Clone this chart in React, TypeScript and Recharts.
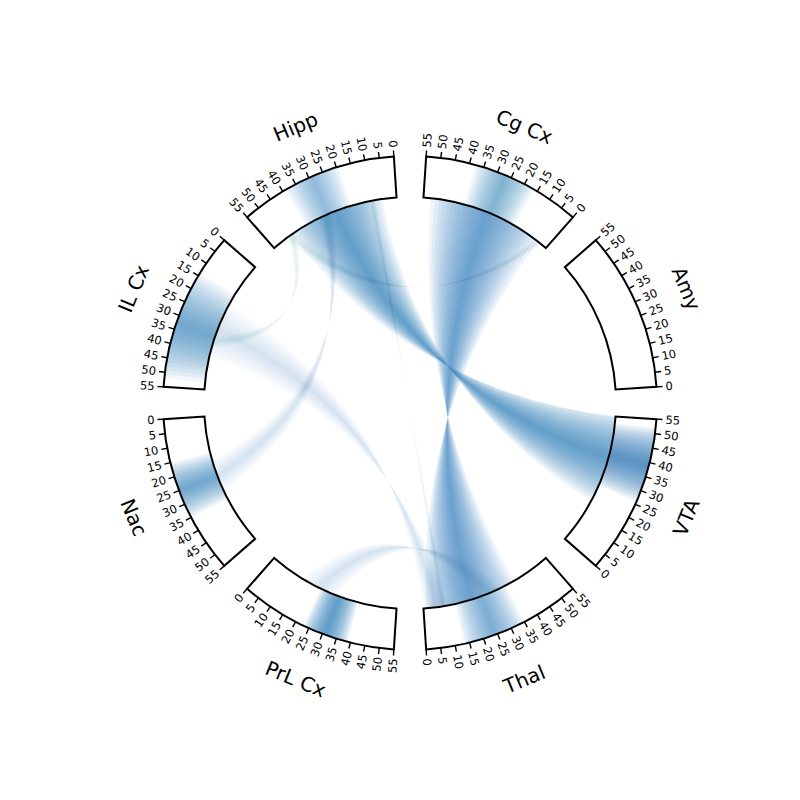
import React from 'react';
import { PieChart, Pie, Cell, Sector, Customized } from 'recharts';

// ---------------- data ----------------
const sectorNames = ['Amy', 'Cg Cx', 'Hipp', 'IL Cx', 'Nac', 'PrL Cx', 'Thal', 'VTA'];
const sectorSizes = [55, 55, 55, 55, 55, 55, 55, 55];
const tickValues = [0, 5, 10, 15, 20, 25, 30, 35, 40, 45, 50, 55];
const axisMax = 55;

// density bands drawn inside the tracks
const bandSector = ['Cg Cx', 'Hipp', 'IL Cx', 'Nac', 'PrL Cx', 'Thal', 'VTA'];
const bandCenter = [27, 29, 33, 25, 31, 24, 39];
const bandSpread = [11, 10, 19, 10, 8, 11, 13];
const bandPeak = [0.55, 0.5, 0.65, 0.65, 0.7, 0.6, 0.75];

// links between regions
const linkSource = ['Hipp', 'Cg Cx', 'IL Cx', 'IL Cx', 'Nac', 'PrL Cx', 'Hipp', 'Hipp'];
const linkSourceCenter = [26, 28, 30, 35, 25, 22, 47, 10];
const linkSourceSpread = [20, 24, 12, 3, 7, 8, 3, 1.5];
const linkTarget = ['VTA', 'Thal', 'Thal', 'Hipp', 'Hipp', 'Thal', 'Cg Cx', 'Thal'];
const linkTargetCenter = [38, 20, 5, 46, 30, 28, 4, 8];
const linkTargetSpread = [19, 19, 5, 2, 3, 5, 2, 1.5];
const linkPeak = [0.72, 0.66, 0.2, 0.1, 0.16, 0.18, 0.08, 0.1];

// ---------------- geometry ----------------
const W = 800;
const H = 800;
const CX = 402;
const CY = 395;
const R_IN = 206;
const R_OUT = 247;
const START = 3.75;
const PAD = 7.5;
const STEP = 45;
const SPAN = STEP - PAD;
const BLUE = '#2a7ab8';
const FONT = 'DejaVu Sans, sans-serif';

const rad = (d: number) => (d * Math.PI) / 180;
const pt = (a: number, r: number): [number, number] => [CX + r * Math.cos(rad(a)), CY - r * Math.sin(rad(a))];
const clamp = (v: number) => Math.max(0, Math.min(axisMax, v));
const ang = (name: string, v: number) => START + STEP * sectorNames.indexOf(name) + (clamp(v) / axisMax) * SPAN;

// control point of the bezier: toward the middle angle, further out when the ends are close
function ctrl(a0: number, a1: number): [number, number] {
  let d = Math.abs(a1 - a0) % 360;
  let mid = (a0 + a1) / 2;
  if (d > 180) {
    d = 360 - d;
    mid += 180;
  }
  const c = Math.cos(rad(d / 2));
  const rc = R_IN * 0.65 * c * c * c;
  return pt(mid, rc);
}

function ribbonPath(s0: number, s1: number, t0: number, t1: number, r: number) {
  const [ax, ay] = pt(s0, r);
  const [bx, by] = pt(s1, r);
  const [cx1, cy1] = pt(t1, r);
  const [dx, dy] = pt(t0, r);
  const [q1x, q1y] = ctrl(s1, t1);
  const [q2x, q2y] = ctrl(t0, s0);
  return `M${ax},${ay} A${r},${r} 0 0 0 ${bx},${by} Q${q1x},${q1y} ${cx1},${cy1} A${r},${r} 0 0 1 ${dx},${dy} Q${q2x},${q2y} ${ax},${ay} Z`;
}

const LAYERS = 14;

function Underlay() {
  const bands: React.ReactNode[] = [];
  bandSector.forEach((s, i) => {
    const a = 1 - Math.pow(1 - bandPeak[i], 1 / LAYERS);
    for (let k = 1; k <= LAYERS; k++) {
      const w = (bandSpread[i] * k) / LAYERS;
      bands.push(
        <Sector
          key={`b${i}-${k}`}
          cx={CX}
          cy={CY}
          innerRadius={R_IN}
          outerRadius={R_OUT}
          startAngle={ang(s, bandCenter[i] - w)}
          endAngle={ang(s, bandCenter[i] + w)}
          fill={BLUE}
          fillOpacity={a}
          stroke="none"
        />
      );
    }
  });
  const links: React.ReactNode[] = [];
  linkSource.forEach((s, i) => {
    const a = 1 - Math.pow(1 - linkPeak[i], 1 / LAYERS);
    for (let k = 1; k <= LAYERS; k++) {
      const ws = (linkSourceSpread[i] * k) / LAYERS;
      const wt = (linkTargetSpread[i] * k) / LAYERS;
      const d = ribbonPath(
        ang(s, linkSourceCenter[i] - ws),
        ang(s, linkSourceCenter[i] + ws),
        ang(linkTarget[i], linkTargetCenter[i] - wt),
        ang(linkTarget[i], linkTargetCenter[i] + wt),
        R_IN
      );
      links.push(<path key={`l${i}-${k}`} d={d} fill={BLUE} fillOpacity={a} stroke="none" />);
    }
  });
  return (
    <g>
      {bands}
      {links}
    </g>
  );
}

function Overlay() {
  const items: React.ReactNode[] = [];
  sectorNames.forEach((name, si) => {
    tickValues.forEach((v) => {
      const a = ang(name, v);
      const [x1, y1] = pt(a, R_OUT);
      const [x2, y2] = pt(a, R_OUT + 6);
      const [lx, ly] = pt(a, R_OUT + 9);
      const norm = ((a % 360) + 360) % 360;
      const left = norm > 90 && norm < 270;
      const rot = left ? norm - 180 : norm;
      items.push(<line key={`t${si}-${v}`} x1={x1} y1={y1} x2={x2} y2={y2} stroke="#000" strokeWidth={1.4} />);
      items.push(
        <text
          key={`tl${si}-${v}`}
          x={lx}
          y={ly}
          fontSize={11.5}
          fontFamily={FONT}
          textAnchor={left ? 'end' : 'start'}
          dominantBaseline="central"
          transform={`rotate(${-rot} ${lx} ${ly})`}
          fill="#000"
        >
          {v}
        </text>
      );
    });
    const mid = START + STEP * si + SPAN / 2;
    const [nx, ny] = pt(mid, 299);
    const nrot = mid > 0 && mid < 180 ? mid - 90 : mid + 90;
    items.push(
      <text
        key={`n${si}`}
        x={nx}
        y={ny}
        fontSize={20}
        fontFamily={FONT}
        textAnchor="middle"
        dominantBaseline="central"
        transform={`rotate(${-nrot} ${nx} ${ny})`}
        fill="#000"
      >
        {name}
      </text>
    );
  });
  return <g>{items}</g>;
}

const pieData = sectorNames.map((name, i) => ({ name, size: sectorSizes[i] }));

export default function App() {
  return (
    <PieChart width={W} height={H} margin={{ top: 0, right: 0, bottom: 0, left: 0 }}>
      <Customized component={Underlay} />
      <Pie
        data={pieData}
        dataKey="size"
        nameKey="name"
        cx={CX}
        cy={CY}
        innerRadius={R_IN}
        outerRadius={R_OUT}
        startAngle={START}
        endAngle={START + 360}
        paddingAngle={PAD}
        stroke="#000"
        strokeWidth={2}
        fill="none"
        isAnimationActive={false}
      >
        {pieData.map((d) => (
          <Cell key={d.name} fill="none" stroke="#000" strokeWidth={2} />
        ))}
      </Pie>
      <Customized component={Overlay} />
    </PieChart>
  );
}
